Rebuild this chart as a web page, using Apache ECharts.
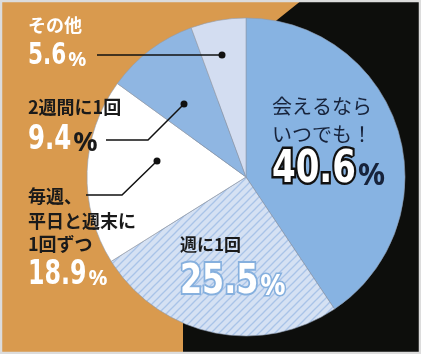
<!DOCTYPE html>
<html>
<head>
<meta charset="utf-8">
<script src="https://cdn.jsdelivr.net/npm/echarts@6/dist/echarts.min.js"></script>
<style>
  html, body { margin: 0; padding: 0; }
  #chart { width: 421px; height: 354px; }
</style>
</head>
<body>
<div id="chart"></div>
<script>
  // 回答の内訳（%）
  var categories = ['会えるならいつでも！', '週に1回', '毎週、平日と週末に1回ずつ', '2週間に1回', 'その他'];
  var values = [40.6, 25.5, 18.9, 9.4, 5.6];
  // ラベルの改行
  var titleLines = [['会えるなら', 'いつでも！'], ['週に1回'], ['毎週、', '平日と週末に', '1回ずつ'], ['2週間に1回'], ['その他']];

  // ラベルの置き場所とスタイル（データとは別）
  var labelLayout = [
    {x: 272, lines: [106, 134], titleSize: 20, titleColor: '#17233b', titleWeight: 'normal',
     base: 187, numSize: 44, numScale: 0.86, numFill: '#fff', numStroke: '#111', numLw: 5,
     pctSize: 30, pctFill: '#17233b', pctStroke: null},
    {x: 180, lines: [245], titleSize: 17, titleColor: '#1a1a1a', titleWeight: 'bold',
     base: 297, numSize: 41, numScale: 0.86, numFill: '#fff', numStroke: '#86b0de', numLw: 4,
     pctSize: 28, pctFill: '#fff', pctStroke: '#86b0de'},
    {x: 28, lines: [196, 221, 244], titleSize: 18, titleColor: '#1a1a1a', titleWeight: 'bold',
     base: 287, numSize: 33, numScale: 0.8, numFill: '#fff', numStroke: null, numLw: 0,
     pctSize: 21, pctFill: '#fff', pctStroke: null},
    {x: 28, lines: [107], titleSize: 18, titleColor: '#1a1a1a', titleWeight: 'bold',
     base: 153, numSize: 34, numScale: 0.8, numFill: '#fff', numStroke: null, numLw: 0,
     pctSize: 27, pctFill: '#1a1a1a', pctStroke: null},
    {x: 28, lines: [25], titleSize: 18, titleColor: '#fff', titleWeight: 'bold',
     base: 67, numSize: 30, numScale: 0.8, numFill: '#fff', numStroke: null, numLw: 0,
     pctSize: 20, pctFill: '#fff', pctStroke: null}
  ];

  var NUM_FONT = '"DejaVu Sans Condensed", "DejaVu Sans", sans-serif';
  var PCT_FONT = '"Noto Sans", Roboto, sans-serif';
  var JP_FONT = '"Noto Sans CJK JP", sans-serif';

  // 斜線の模様
  function makeStripe() {
    var c = document.createElement('canvas');
    c.width = 8; c.height = 8;
    var ctx = c.getContext('2d');
    ctx.fillStyle = '#d5e1f3';
    ctx.fillRect(0, 0, 8, 8);
    ctx.strokeStyle = '#a9c3e8';
    ctx.lineWidth = 1.3;
    [[-4, 4, 4, -4], [0, 8, 8, 0], [4, 12, 12, 4]].forEach(function (l) {
      ctx.beginPath(); ctx.moveTo(l[0], l[1]); ctx.lineTo(l[2], l[3]); ctx.stroke();
    });
    return c;
  }

  var measureCtx = document.createElement('canvas').getContext('2d');
  function textWidth(text, font) {
    measureCtx.font = font;
    return measureCtx.measureText(text).width;
  }

  var sliceColors = ['#87b3e2', {image: makeStripe(), repeat: 'repeat'}, '#ffffff', '#8fb6e2', '#d3ddf1'];

  var chart = echarts.init(document.getElementById('chart'));

  var graphics = [
    // 右側の黒い背景
    {type: 'polygon', z: -10, silent: true,
     shape: {points: [[302, 0], [421, 0], [421, 354], [183, 354], [183, 318], [150, 200], [272, 24]]},
     style: {fill: '#0d0e0c'}},
    // 引き出し線
    {type: 'polyline', z: 50, shape: {points: [[97, 55], [222, 55]]}, style: {stroke: '#111', lineWidth: 1.5, fill: null}},
    {type: 'circle', z: 50, shape: {cx: 222, cy: 55, r: 3.5}, style: {fill: '#111'}},
    {type: 'polyline', z: 50, shape: {points: [[106, 140], [148, 140], [184, 104]]}, style: {stroke: '#111', lineWidth: 1.5, fill: null}},
    {type: 'circle', z: 50, shape: {cx: 184, cy: 104, r: 3.5}, style: {fill: '#111'}},
    {type: 'polyline', z: 50, shape: {points: [[86, 195], [122, 195], [157, 161]]}, style: {stroke: '#111', lineWidth: 1.5, fill: null}},
    {type: 'circle', z: 50, shape: {cx: 157, cy: 161, r: 3.5}, style: {fill: '#111'}},
    // 枠
    {type: 'rect', z: 100, silent: true, shape: {x: 1, y: 1, width: 419, height: 352},
     style: {fill: null, stroke: '#dcdcdc', lineWidth: 2.5}}
  ];

  values.forEach(function (v, i) {
    var lay = labelLayout[i];
    titleLines[i].forEach(function (line, j) {
      graphics.push({
        type: 'text', z: 60, x: lay.x, y: lay.lines[j],
        style: {text: line, fill: lay.titleColor, align: 'left', verticalAlign: 'middle',
                font: lay.titleWeight + ' ' + lay.titleSize + 'px ' + JP_FONT}
      });
    });
    var numText = v.toFixed(1);
    var numFont = 'bold ' + lay.numSize + 'px ' + NUM_FONT;
    var capMid = lay.base - lay.numSize * 0.365;
    graphics.push({
      type: 'text', z: 60, x: lay.x, y: capMid, scaleX: lay.numScale,
      style: {text: numText, font: numFont, fill: lay.numFill, align: 'left', verticalAlign: 'middle',
              stroke: lay.numStroke, lineWidth: lay.numLw}
    });
    var px = lay.x + textWidth(numText, numFont) * lay.numScale + 2;
    graphics.push({
      type: 'text', z: 60, x: px, y: lay.base - lay.pctSize * 0.36,
      style: {text: '%', font: 'bold ' + lay.pctSize + 'px ' + PCT_FONT, fill: lay.pctFill,
              align: 'left', verticalAlign: 'middle',
              stroke: lay.pctStroke, lineWidth: lay.pctStroke ? 3 : 0}
    });
  });

  var option = {
    backgroundColor: '#d99a4e',
    animation: false,
    graphic: graphics,
    series: [{
      type: 'pie',
      center: [246, 177],
      radius: 159,
      startAngle: 90,
      clockwise: true,
      silent: true,
      label: {show: false},
      labelLine: {show: false},
      itemStyle: {borderColor: '#8f9cb0', borderWidth: 0.6},
      data: values.map(function (v, i) {
        return {value: v, name: categories[i], itemStyle: {color: sliceColors[i]}};
      })
    }]
  };

  chart.setOption(option);
</script>
</body>
</html>
